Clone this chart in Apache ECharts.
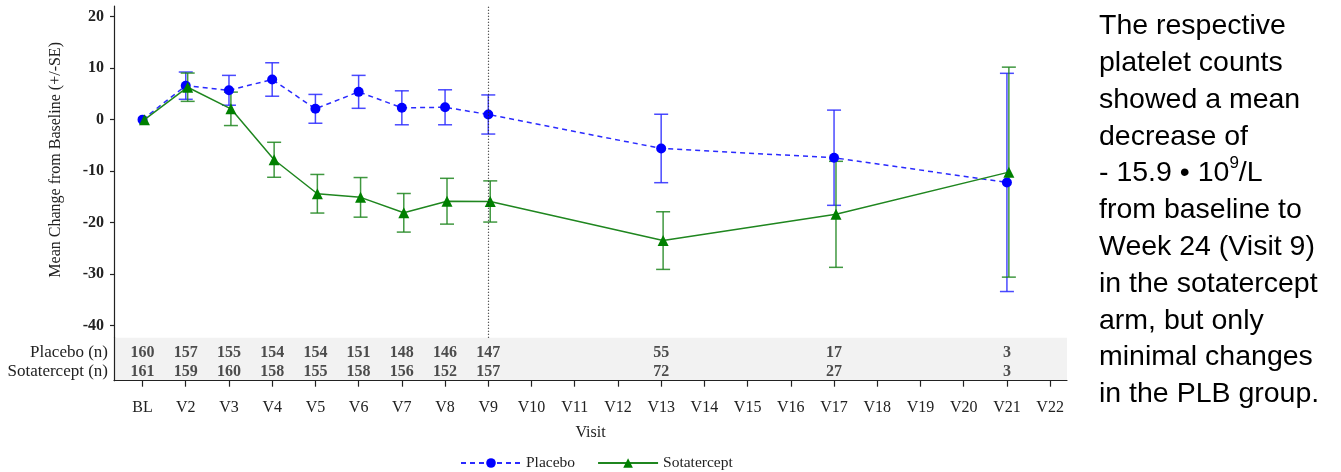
<!DOCTYPE html>
<html>
<head>
<meta charset="utf-8">
<script src="https://cdn.jsdelivr.net/npm/echarts@6/dist/echarts.min.js"></script>
<style>
  html, body { margin: 0; padding: 0; background: #ffffff; }
  #chart { width: 1341px; height: 472px; }
</style>
</head>
<body>
<div id="chart"></div>
<script>
// Visit schedule shown on the x axis
const visits = ['BL', 'V2', 'V3', 'V4', 'V5', 'V6', 'V7', 'V8', 'V9', 'V10', 'V11',
  'V12', 'V13', 'V14', 'V15', 'V16', 'V17', 'V18', 'V19', 'V20', 'V21', 'V22'];
// Visits with observed data
const observedVisits = ['BL', 'V2', 'V3', 'V4', 'V5', 'V6', 'V7', 'V8', 'V9', 'V13', 'V17', 'V21'];

// Mean change from baseline in platelet count (10^9/L) and standard error
const placeboMean = [0, 6.6, 5.7, 7.8, 2.1, 5.4, 2.3, 2.4, 1.0, -5.6, -7.4, -12.2];
const placeboSE   = [0, 2.65, 2.9, 3.25, 2.8, 3.2, 3.3, 3.4, 3.8, 6.65, 9.25, 21.2];
const sotaMean    = [0, 6.3, 2.1, -7.8, -14.4, -15.1, -18.1, -15.85, -15.9, -23.5, -18.4, -10.2];
const sotaSE      = [0, 2.75, 3.25, 3.4, 3.75, 3.85, 3.75, 4.45, 4.0, 5.6, 10.3, 20.4];

// Number of subjects at each observed visit
const placeboN = [160, 157, 155, 154, 154, 151, 148, 146, 147, 55, 17, 3];
const sotaN    = [161, 159, 160, 158, 155, 158, 156, 152, 157, 72, 27, 3];

const yTicks = [-40, -30, -20, -10, 0, 10, 20];
const referenceVisit = 'V9';

const summaryLines = [
  'The respective',
  'platelet counts',
  'showed a mean',
  'decrease of',
  '- 15.9 \u2022 10{sup|9}/L',
  'from baseline to',
  'Week 24 (Visit 9)',
  'in the sotatercept',
  'arm, but only',
  'minimal changes',
  'in the PLB group.'
];

const SERIF = "'Liberation Serif', 'Times New Roman', serif";
const SANS = "'Liberation Sans', Arial, sans-serif";
const BLUE = '#0000ff';
const GREEN = '#008000';
const SOTA_SHIFT = 0.045;   // small horizontal dodge so the two arms do not overlap

const idx = v => visits.indexOf(v);
const tickIdx = visits.map((_, i) => i);

function points(mean, shift) {
  return observedVisits.map((v, i) => [idx(v) + shift, mean[i]]);
}
function bars(mean, se, shift) {
  const out = [];
  observedVisits.forEach((v, i) => {
    if (se[i] > 0) out.push([idx(v) + shift, mean[i] - se[i], mean[i] + se[i]]);
  });
  return out;
}
function counts(n, row) {
  return observedVisits.map((v, i) => [idx(v), row, n[i]]);
}

function errorBarItem(params, api) {
  const x = api.value(0);
  const top = api.coord([x, api.value(2)]);
  const bot = api.coord([x, api.value(1)]);
  const w = 7;
  const style = { stroke: api.visual('color'), lineWidth: 1.5, opacity: 0.85 };
  return {
    type: 'group',
    children: [
      { type: 'line', shape: { x1: top[0], y1: top[1], x2: bot[0], y2: bot[1] }, style },
      { type: 'line', shape: { x1: top[0] - w, y1: top[1], x2: top[0] + w, y2: top[1] }, style },
      { type: 'line', shape: { x1: bot[0] - w, y1: bot[1], x2: bot[0] + w, y2: bot[1] }, style }
    ]
  };
}

const axisLineStyle = { color: '#222', width: 1.2 };

const chart = echarts.init(document.getElementById('chart'), null, { renderer: 'canvas' });

chart.setOption({
  backgroundColor: '#ffffff',
  animation: false,
  grid: [
    { left: 114, right: 274, top: 6, height: 331.7 },
    { left: 114, right: 274, top: 337.7, height: 43, show: true, backgroundColor: '#f2f2f2', borderWidth: 0 }
  ],
  xAxis: [
    { gridIndex: 0, type: 'value', min: -0.66, max: 21.39, show: false },
    {
      gridIndex: 1, type: 'value', min: -0.66, max: 21.39,
      name: 'Visit', nameLocation: 'middle', nameGap: 44,
      nameTextStyle: { fontFamily: SERIF, fontSize: 16, color: '#222' },
      axisLine: { show: true, onZero: false, lineStyle: axisLineStyle },
      axisTick: { show: true, length: 6, customValues: tickIdx, lineStyle: axisLineStyle },
      axisLabel: {
        customValues: tickIdx, margin: 19,
        formatter: v => visits[Math.round(v)],
        fontFamily: SERIF, fontSize: 16, color: '#222'
      },
      splitLine: { show: false }
    }
  ],
  yAxis: [
    {
      gridIndex: 0, type: 'value', min: -42.37, max: 22.08,
      name: 'Mean Change from Baseline (+/-SE)', nameLocation: 'middle', nameGap: 50,
      nameTextStyle: { fontFamily: SERIF, fontSize: 16, color: '#222', padding: [0, 0, 0, 24] },
      axisLine: { show: true, onZero: false, lineStyle: axisLineStyle },
      axisTick: { show: true, length: 4, customValues: yTicks, lineStyle: axisLineStyle },
      axisLabel: {
        customValues: yTicks, margin: 10,
        fontFamily: SERIF, fontSize: 16, fontWeight: 'bold', color: '#222'
      },
      splitLine: { show: false }
    },
    {
      gridIndex: 1, type: 'value', min: -0.5, max: 1.83,
      axisLine: { show: true, onZero: false, lineStyle: axisLineStyle },
      axisTick: { show: false },
      axisLabel: {
        customValues: [0, 1], margin: 6,
        formatter: v => (v === 1 ? 'Placebo (n)' : 'Sotatercept (n)'),
        fontFamily: SERIF, fontSize: 17, color: '#222'
      },
      splitLine: { show: false }
    }
  ],
  legend: {
    data: ['Placebo', 'Sotatercept'],
    left: 460, top: 455, padding: 0,
    itemWidth: 60, itemHeight: 12, itemGap: 22,
    textStyle: { fontFamily: SERIF, fontSize: 15.5, color: '#222' }
  },
  series: [
    {
      name: 'Placebo SE', type: 'custom', xAxisIndex: 0, yAxisIndex: 0,
      renderItem: errorBarItem, itemStyle: { color: '#2a2aff' },
      data: bars(placeboMean, placeboSE, 0), silent: true, z: 2
    },
    {
      name: 'Sotatercept SE', type: 'custom', xAxisIndex: 0, yAxisIndex: 0,
      renderItem: errorBarItem, itemStyle: { color: '#1f861f' },
      data: bars(sotaMean, sotaSE, SOTA_SHIFT), silent: true, z: 2
    },
    {
      name: 'Placebo', type: 'line', xAxisIndex: 0, yAxisIndex: 0,
      data: points(placeboMean, 0),
      symbol: 'circle', symbolSize: 10,
      itemStyle: { color: BLUE },
      lineStyle: { color: '#2a2aff', width: 1.5, type: [5, 4] },
      z: 3,
      markLine: {
        silent: true, symbol: 'none', label: { show: false },
        lineStyle: { color: '#222', type: [1, 2], width: 1.2 },
        data: [{ xAxis: idx(referenceVisit) }]
      }
    },
    {
      name: 'Sotatercept', type: 'line', xAxisIndex: 0, yAxisIndex: 0,
      data: points(sotaMean, SOTA_SHIFT),
      symbol: 'triangle', symbolSize: 11,
      itemStyle: { color: GREEN },
      lineStyle: { color: '#1f861f', width: 1.5, type: 'solid' },
      z: 4
    },
    {
      name: 'Placebo n', type: 'scatter', xAxisIndex: 1, yAxisIndex: 1,
      data: counts(placeboN, 1), symbolSize: 0, silent: true,
      label: { show: true, position: 'inside', formatter: p => p.value[2],
        fontFamily: SERIF, fontSize: 16, fontWeight: 'bold', color: '#222' }
    },
    {
      name: 'Sotatercept n', type: 'scatter', xAxisIndex: 1, yAxisIndex: 1,
      data: counts(sotaN, 0), symbolSize: 0, silent: true,
      label: { show: true, position: 'inside', formatter: p => p.value[2],
        fontFamily: SERIF, fontSize: 16, fontWeight: 'bold', color: '#222' }
    }
  ],
  graphic: [
    {
      type: 'text', left: 1099, top: 8, silent: true,
      style: {
        text: summaryLines.join('\n'),
        fontFamily: SANS, fontSize: 28.5, lineHeight: 36.8, fill: '#000',
        rich: {
          sup: { fontFamily: SANS, fontSize: 17, lineHeight: 27, verticalAlign: 'top', fill: '#000' }
        }
      }
    }
  ]
});
</script>
</body>
</html>
